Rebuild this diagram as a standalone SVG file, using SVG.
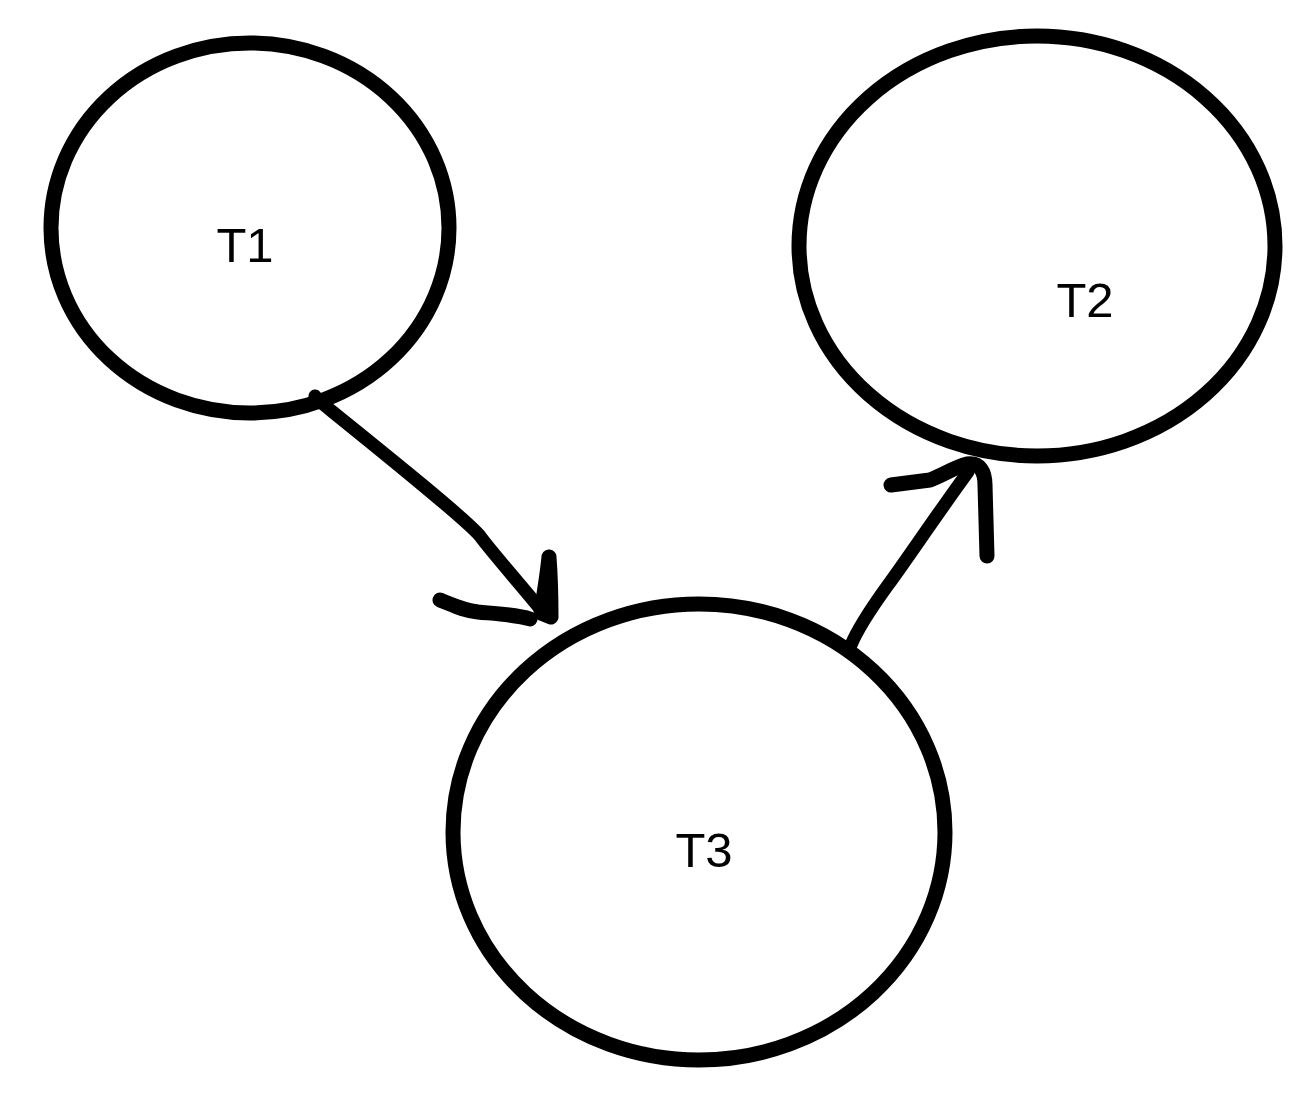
<svg xmlns="http://www.w3.org/2000/svg" width="1306" height="1098" viewBox="0 0 1306 1098">
  <style>
    .node ellipse { fill: none; stroke: #000; stroke-width: 15; }
    .node text { font-family: "Liberation Sans", Arial, sans-serif; font-size: 49px; fill: #000; text-anchor: middle; }
    .edge { fill: none; stroke: #000; stroke-linecap: round; stroke-linejoin: round; }
    .shaft { stroke-width: 13; }
    .barb { stroke-width: 15; }
  </style>
  <rect width="1306" height="1098" fill="#fff"/>

  <g id="T1" class="node">
    <ellipse cx="250" cy="228" rx="199" ry="185"/>
    <text x="245" y="262">T1</text>
  </g>
  <g id="T2" class="node">
    <ellipse cx="1037" cy="246" rx="238" ry="210"/>
    <text x="1085" y="317">T2</text>
  </g>
  <g id="T3" class="node">
    <ellipse cx="699" cy="832" rx="246" ry="228"/>
    <text x="704" y="867">T3</text>
  </g>

  <g id="connectors">
    <!-- T1 to T3 -->
    <path class="edge shaft" d="M315,396 L318,400 C380,450 465,518 480,536 C490,550 520,584 542,611"/>
    <path class="edge barb" d="M440,600 C455,606 462,610 478,612 C500,614 518,615 530,619"/>
    <path class="edge barb" d="M549,557 C547,577 543,600 541,613 L551,617 C551,590 550,570 549,557"/>
    <!-- T3 to T2 -->
    <path class="edge shaft" d="M851,645 C858,628 875,603 888,585 C905,562 940,510 968,472"/>
    <path class="edge barb" d="M891,485 L930,480 C945,474 955,467 967,464 C980,462 985,472 985,485 L987,556"/>
  </g>
</svg>
